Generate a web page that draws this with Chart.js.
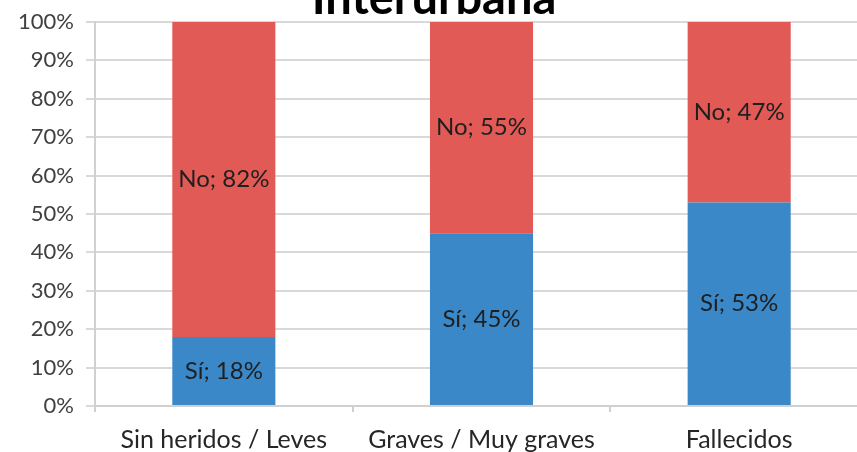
<!DOCTYPE html>
<html>
<head>
<meta charset="utf-8">
<script src="https://cdn.jsdelivr.net/npm/chart.js@4/dist/chart.umd.min.js"></script>
<style>
  html, body { margin: 0; padding: 0; background: #fff; overflow: hidden; }
  #wrap { position: absolute; left: 0; top: -25px; width: 880px; height: 477px; }
</style>
</head>
<body>
<div id="wrap"><canvas id="chart"></canvas></div>
<script>
const categories = ['Sin heridos / Leves', 'Graves / Muy graves', 'Fallecidos'];
const seriesNames = ['Sí', 'No'];
const siValues = [18, 45, 53];
const noValues = [82, 55, 47];
const yTicks = [0, 10, 20, 30, 40, 50, 60, 70, 80, 90, 100];

// etiquetas "Serie; valor%" centradas en cada segmento
const barLabels = {
  id: 'barLabels',
  afterDatasetsDraw(chart) {
    const ctx = chart.ctx;
    ctx.save();
    ctx.font = '24px Lato';
    ctx.fillStyle = '#1f1f1f';
    ctx.textAlign = 'center';
    ctx.textBaseline = 'middle';
    chart.data.datasets.forEach((ds, i) => {
      const meta = chart.getDatasetMeta(i);
      meta.data.forEach((bar, j) => {
        const y = (bar.y + bar.base) / 2;
        ctx.fillText(ds.label + '; ' + ds.data[j] + '%', bar.x, y);
      });
    });
    ctx.restore();
  }
};

var ctx = document.getElementById('chart');
var myChart = new Chart(ctx, {
  type: 'bar',
  data: {
    labels: categories,
    datasets: [{
      label: seriesNames[0],
      data: siValues,
      backgroundColor: '#3a88c8',
      barPercentage: 0.4,
      categoryPercentage: 1
    }, {
      label: seriesNames[1],
      data: noValues,
      backgroundColor: '#e15a56',
      barPercentage: 0.4,
      categoryPercentage: 1
    }]
  },
  options: {
    responsive: true,
    maintainAspectRatio: false,
    animation: false,
    layout: { padding: { left: 0, right: 12, top: 0, bottom: 0 } },
    plugins: {
      legend: { display: false },
      tooltip: { enabled: false },
      title: {
        display: true,
        text: 'Interurbana',
        color: '#000',
        font: { family: 'Lato', size: 47, weight: 'bold', lineHeight: 1 },
        padding: { top: 0, bottom: 0 }
      }
    },
    scales: {
      x: {
        stacked: true,
        afterFit(s) { s.height = 46; },
        grid: { drawOnChartArea: false, drawTicks: true, tickLength: 6, color: '#d0d0d0', lineWidth: 2 },
        border: { color: '#d0d0d0', width: 2 },
        ticks: { color: '#262626', font: { family: 'Lato', size: 25 }, padding: 13 }
      },
      y: {
        stacked: true,
        min: 0,
        max: 100,
        afterFit(s) { s.width = 95; },
        afterBuildTicks(s) { s.ticks = yTicks.map(v => ({ value: v })); },
        grid: { color: '#d9d9d9', lineWidth: 2, tickLength: 9 },
        border: { color: '#d0d0d0', width: 2 },
        ticks: {
          color: '#404040',
          font: { family: 'Lato', size: 22 },
          padding: 12,
          callback: v => v + '%'
        }
      }
    }
  },
  plugins: [barLabels]
});
</script>
</body>
</html>
